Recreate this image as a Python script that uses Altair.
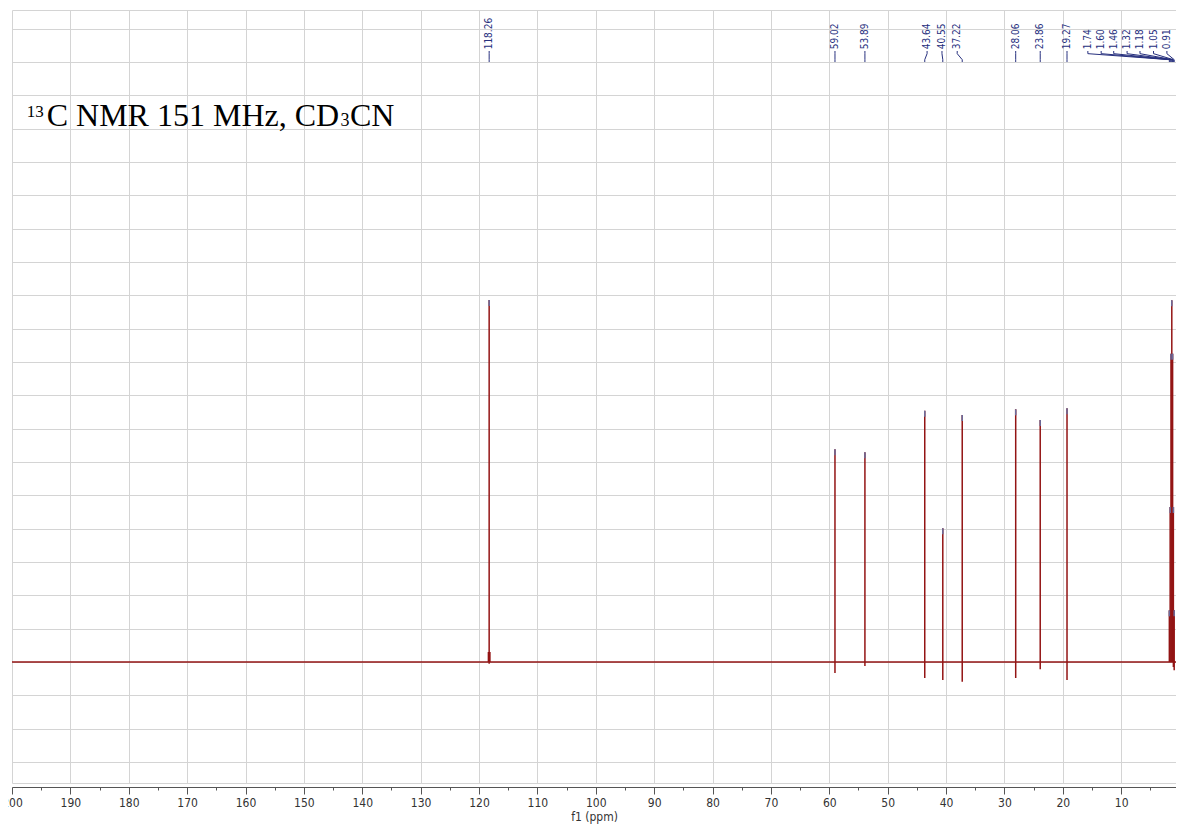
import altair as alt
import pandas as pd

# ---- data ----
peak_ppm = [118.26, 59.02, 53.89, 43.64, 40.55, 37.22, 28.06, 23.86, 19.27,
            1.74, 1.60, 1.46, 1.32, 1.18, 1.05, 0.91]
peak_height = [10.86, 6.38, 6.29, 7.54, 4.01, 7.41, 7.58, 7.26, 7.61,
               1.55, 4.65, 9.25, 10.85, 9.25, 4.65, 1.55]
peak_dip = [-0.05, -0.33, -0.12, -0.48, -0.54, -0.59, -0.48, -0.22, -0.54,
            0.0, 0.0, 0.0, 0.0, 0.0, -0.15, -0.25]
label_text = ["118.26", "59.02", "53.89", "43.64", "40.55", "37.22", "28.06",
              "23.86", "19.27", "1.74", "1.60", "1.46", "1.32", "1.18", "1.05", "0.91"]
label_ppm = [118.26, 59.02, 53.89, 43.24, 40.69, 38.08, 28.06, 23.86, 19.27,
             15.70, 13.42, 11.27, 8.98, 6.77, 4.45, 2.16]
foot_ppm = [118.26]
foot_height = [0.3]
x_tick_values = list(range(200, 0, -5))
y_grid_values = [-3.63] + list(range(-3, 20)) + [19.56]
title_parts = ["13", "C NMR 151 MHz, CD", "3", "CN"]

X_DOMAIN = [200, 0.6]
Y_DOMAIN = [-3.63, 19.56]

RED = "#931414"
NAVY = "#27307e"
GRID = "#d4d4d4"
LABEL_FONT = "DejaVu Sans Condensed, DejaVu Sans"

xs = alt.Scale(domain=X_DOMAIN, nice=False, zero=False)
ys = alt.Scale(domain=Y_DOMAIN, nice=False, zero=False)

is_major = "datum.value % 10 == 0"
xaxis = alt.Axis(
    values=x_tick_values,
    labelExpr=f"{is_major} ? datum.label : ''",
    tickSize={"condition": {"test": is_major, "value": 7}, "value": 3},
    tickColor="#555555", tickWidth=1,
    grid=True, gridColor=GRID, gridWidth=1,
    gridOpacity={"condition": {"test": is_major, "value": 1}, "value": 0},
    domainColor="#555555", domainWidth=1.2,
    labelFont=LABEL_FONT, labelFontSize=12, labelColor="#333333", labelPadding=3,
    labelOverlap=False, labelFlush=False, labelBound=False,
    titleFont=LABEL_FONT, titleFontSize=12, titleFontWeight="normal",
    titleColor="#333333", titlePadding=3,
    offset=4, format="d",
)
yaxis = alt.Axis(values=y_grid_values, grid=True, gridColor=GRID, gridWidth=1,
                 labels=False, ticks=False, domain=False)


def X(field):
    return alt.X(field, type="quantitative", scale=xs, axis=xaxis, title="f1 (ppm)")


def Y(field):
    return alt.Y(field, type="quantitative", scale=ys, axis=yaxis, title=None)


peaks = pd.DataFrame({"ppm": peak_ppm, "h": peak_height, "dip": peak_dip,
                      "lab": label_text, "lppm": label_ppm})
peaks["cap"] = peaks["h"] - 0.18

base_df = pd.DataFrame({"ppm": [X_DOMAIN[0]], "ppm2": [X_DOMAIN[1]], "v": [0.0]})
foot_df = pd.DataFrame({"ppm": foot_ppm, "v": [0.0], "h": foot_height})

baseline = alt.Chart(base_df).mark_rule(color=RED, strokeWidth=1.6).encode(
    x=X("ppm"), x2="ppm2", y=Y("v"))

peak_lines = alt.Chart(peaks).mark_rule(color=RED, strokeWidth=1.5).encode(
    x=X("ppm"), y=Y("dip"), y2="h")

caps = alt.Chart(peaks).mark_rule(color="#6a6c9c", strokeWidth=1.5).encode(
    x=X("ppm"), y=Y("cap"), y2="h")

foot = alt.Chart(foot_df).mark_rule(color=RED, strokeWidth=3).encode(
    x=X("ppm"), y=Y("v"), y2="h")

# connectors between labels and peaks
TOP, MID_HI, MID_LO, BOT = 18.33, 18.25, 18.07, 18.0
seg_a = peaks.assign(y1=MID_HI, y2=TOP)
seg_b = peaks.assign(y1=MID_HI, y2=MID_LO)
seg_c = peaks.assign(y1=BOT, y2=MID_LO)

conn_a = alt.Chart(seg_a).mark_rule(color=NAVY, strokeWidth=1).encode(
    x=X("lppm"), y=Y("y1"), y2="y2")
conn_b = alt.Chart(seg_b).mark_rule(color=NAVY, strokeWidth=1).encode(
    x=X("lppm"), x2="ppm", y=Y("y1"), y2="y2")
conn_c = alt.Chart(seg_c).mark_rule(color=NAVY, strokeWidth=1).encode(
    x=X("ppm"), y=Y("y1"), y2="y2")

labels = alt.Chart(peaks.assign(ly=18.38)).mark_text(
    angle=270, align="left", baseline="middle", font=LABEL_FONT,
    fontSize=10, color=NAVY).encode(x=X("lppm"), y=Y("ly"), text="lab:N")

SERIF = "Liberation Serif, Times New Roman, serif"
title_specs = [
    (title_parts[0], 14.7, 107, 17),
    (title_parts[1], 34.7, 116, 32),
    (title_parts[2], 328.5, 116, 18),
    (title_parts[3], 338, 116, 32),
]
title_layers = [
    alt.Chart(pd.DataFrame({"t": [t]})).mark_text(
        align="left", baseline="alphabetic", font=SERIF, fontSize=fs, color="#000000"
    ).encode(x=alt.value(px), y=alt.value(py), text="t:N")
    for t, px, py, fs in title_specs
]

chart = alt.layer(
    baseline, foot, peak_lines, caps, conn_a, conn_b, conn_c, labels, *title_layers
).properties(
    width=1164, height=773,
    padding={"left": 4, "top": 2, "right": 0, "bottom": 41},
    autosize=alt.AutoSizeParams(type="none"),
).configure_view(strokeWidth=0)

chart.save("out.html", embed_options={"renderer": "svg", "actions": False})
